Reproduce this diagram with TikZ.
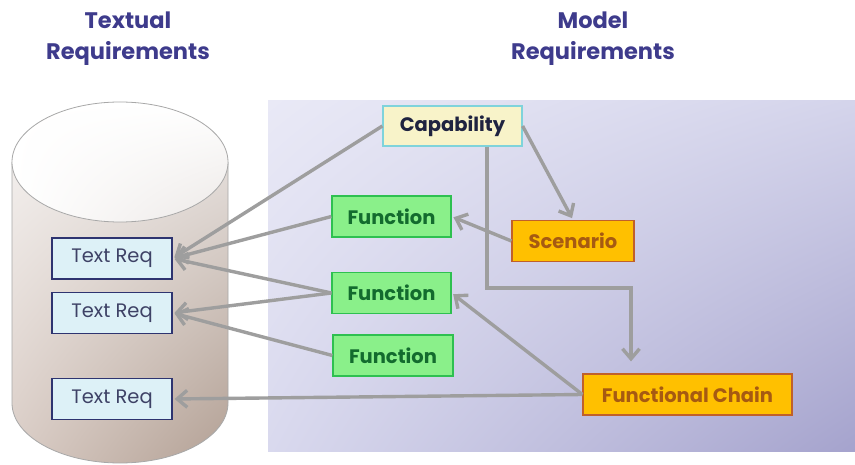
\documentclass[tikz,border=0pt]{standalone}
\usepackage{fontspec}
\setmainfont{Poppins}
\usetikzlibrary{arrows.meta,shadings}

\definecolor{titlecol}{HTML}{3E3B8C}
\definecolor{panelA}{HTML}{E9E9F6}
\definecolor{panelB}{HTML}{D4D4EB}
\definecolor{panelC}{HTML}{D9D9EE}
\definecolor{panelD}{HTML}{A5A3CD}
\definecolor{cylA}{HTML}{F7F5F4}
\definecolor{cylB}{HTML}{EDE9E7}
\definecolor{cylC}{HTML}{D9CCC5}
\definecolor{cylD}{HTML}{B29F93}
\definecolor{cylTop}{HTML}{ECE8E6}
\definecolor{cylEdge}{HTML}{A8A8A8}
\definecolor{linkcol}{HTML}{9E9E9E}
\definecolor{reqfill}{HTML}{DDF1F7}
\definecolor{reqdraw}{HTML}{2E3470}
\definecolor{reqtext}{HTML}{3E4266}
\definecolor{capfill}{HTML}{F8F3C9}
\definecolor{capdraw}{HTML}{7FD3DB}
\definecolor{captext}{HTML}{1F2340}
\definecolor{fnfill}{HTML}{8AF08A}
\definecolor{fndraw}{HTML}{2EC050}
\definecolor{fntext}{HTML}{136B2E}
\definecolor{orfill}{HTML}{FFC000}
\definecolor{ordraw}{HTML}{C0602A}
\definecolor{ortext}{HTML}{A65A12}

\tikzset{
  basebox/.style={rectangle, inner sep=0pt, line width=1.2pt,
    font=\fontsize{19.5}{22}\selectfont},
  boldbox/.style={basebox, font=\fontsize{19.5}{22}\selectfont\bfseries},
  reqbox/.style={basebox, fill=reqfill, draw=reqdraw, text=reqtext,
    minimum width=120pt, minimum height=41pt},
  capbox/.style={boldbox, fill=capfill, draw=capdraw, text=captext,
    minimum width=139pt, minimum height=40pt},
  fnbox/.style={boldbox, fill=fnfill, draw=fndraw, text=fntext,
    minimum width=119pt, minimum height=41pt},
  orbox/.style={boldbox, fill=orfill, draw=ordraw, text=ortext,
    minimum height=41pt},
  heading/.style={align=center, text=titlecol,
    font=\fontsize{22.5}{31}\selectfont\bfseries},
  link/.style={draw=linkcol, line width=3.4pt,
    -{Straight Barb[length=10pt,width=17pt]}, shorten >=2pt},
  cylline/.style={draw=cylEdge, line width=0.8pt}
}

\begin{document}
\begin{tikzpicture}[x=1pt, y=1pt]
\useasboundingbox (0,0) rectangle (855,464);
\fill[white] (0,0) rectangle (855,464);

% headings
\node[heading] (thead) at (128,425) {Textual\\Requirements};
\node[heading] (mhead) at (593,425) {Model\\Requirements};

% model panel
\shade[upper left=panelA, upper right=panelB, lower left=panelC, lower right=panelD]
  (268,13) rectangle (855,363);

% repository cylinder
\shade[upper left=cylA, upper right=cylB, lower left=cylC, lower right=cylD]
  (12,302) -- (12,61) arc[start angle=180, end angle=360, x radius=108pt, y radius=60pt]
  -- (228,302) arc[start angle=0, end angle=180, x radius=108pt, y radius=60pt] -- cycle;
\draw[cylline] (12,302) -- (12,61)
  arc[start angle=180, end angle=360, x radius=108pt, y radius=60pt] -- (228,302);
\shade[upper left=white, lower right=cylTop]
  (120,302) ellipse [x radius=108pt, y radius=60pt];
\draw[cylline] (120,302) ellipse [x radius=108pt, y radius=60pt];

% textual requirements
\node[reqbox] (tr1) at (112,205.5) {Text Req};
\node[reqbox] (tr2) at (112,151) {Text Req};
\node[reqbox] (tr3) at (112,65) {Text Req};

% model elements
\node[capbox] (cap) at (452.5,338) {Capability};
\node[orbox, minimum width=122pt] (scen) at (573,223) {Scenario};
\node[fnbox] (fn1) at (391.5,247.5) {Function};
\node[fnbox] (fn2) at (391.5,171) {Function};
\node[fnbox, minimum width=120pt] (fn3) at (393,108.5) {Function};
\node[orbox, minimum width=209pt] (fc) at (687.5,69.5) {Functional Chain};

% traceability links
\draw[link] (cap.west) -- (tr1.east);
\draw[link] (fn1.west) -- (tr1.east);
\draw[link] (fn2.west) -- (tr1.east);
\draw[link] (fn2.west) -- (tr2.east);
\draw[link] (fn3.west) -- (tr2.east);
\draw[link] (fc.west) -- (tr3.east);

% model links
\draw[link] (cap.east) -- (scen.north);
\draw[link] (scen.west) -- (fn1.east);
\draw[link] (fc.west) -- (fn2.east);
\draw[link, shorten >=12pt] ([xshift=34.5pt]cap.south) |- (631,176) -- ([xshift=-56.5pt]fc.north);
\end{tikzpicture}
\end{document}
